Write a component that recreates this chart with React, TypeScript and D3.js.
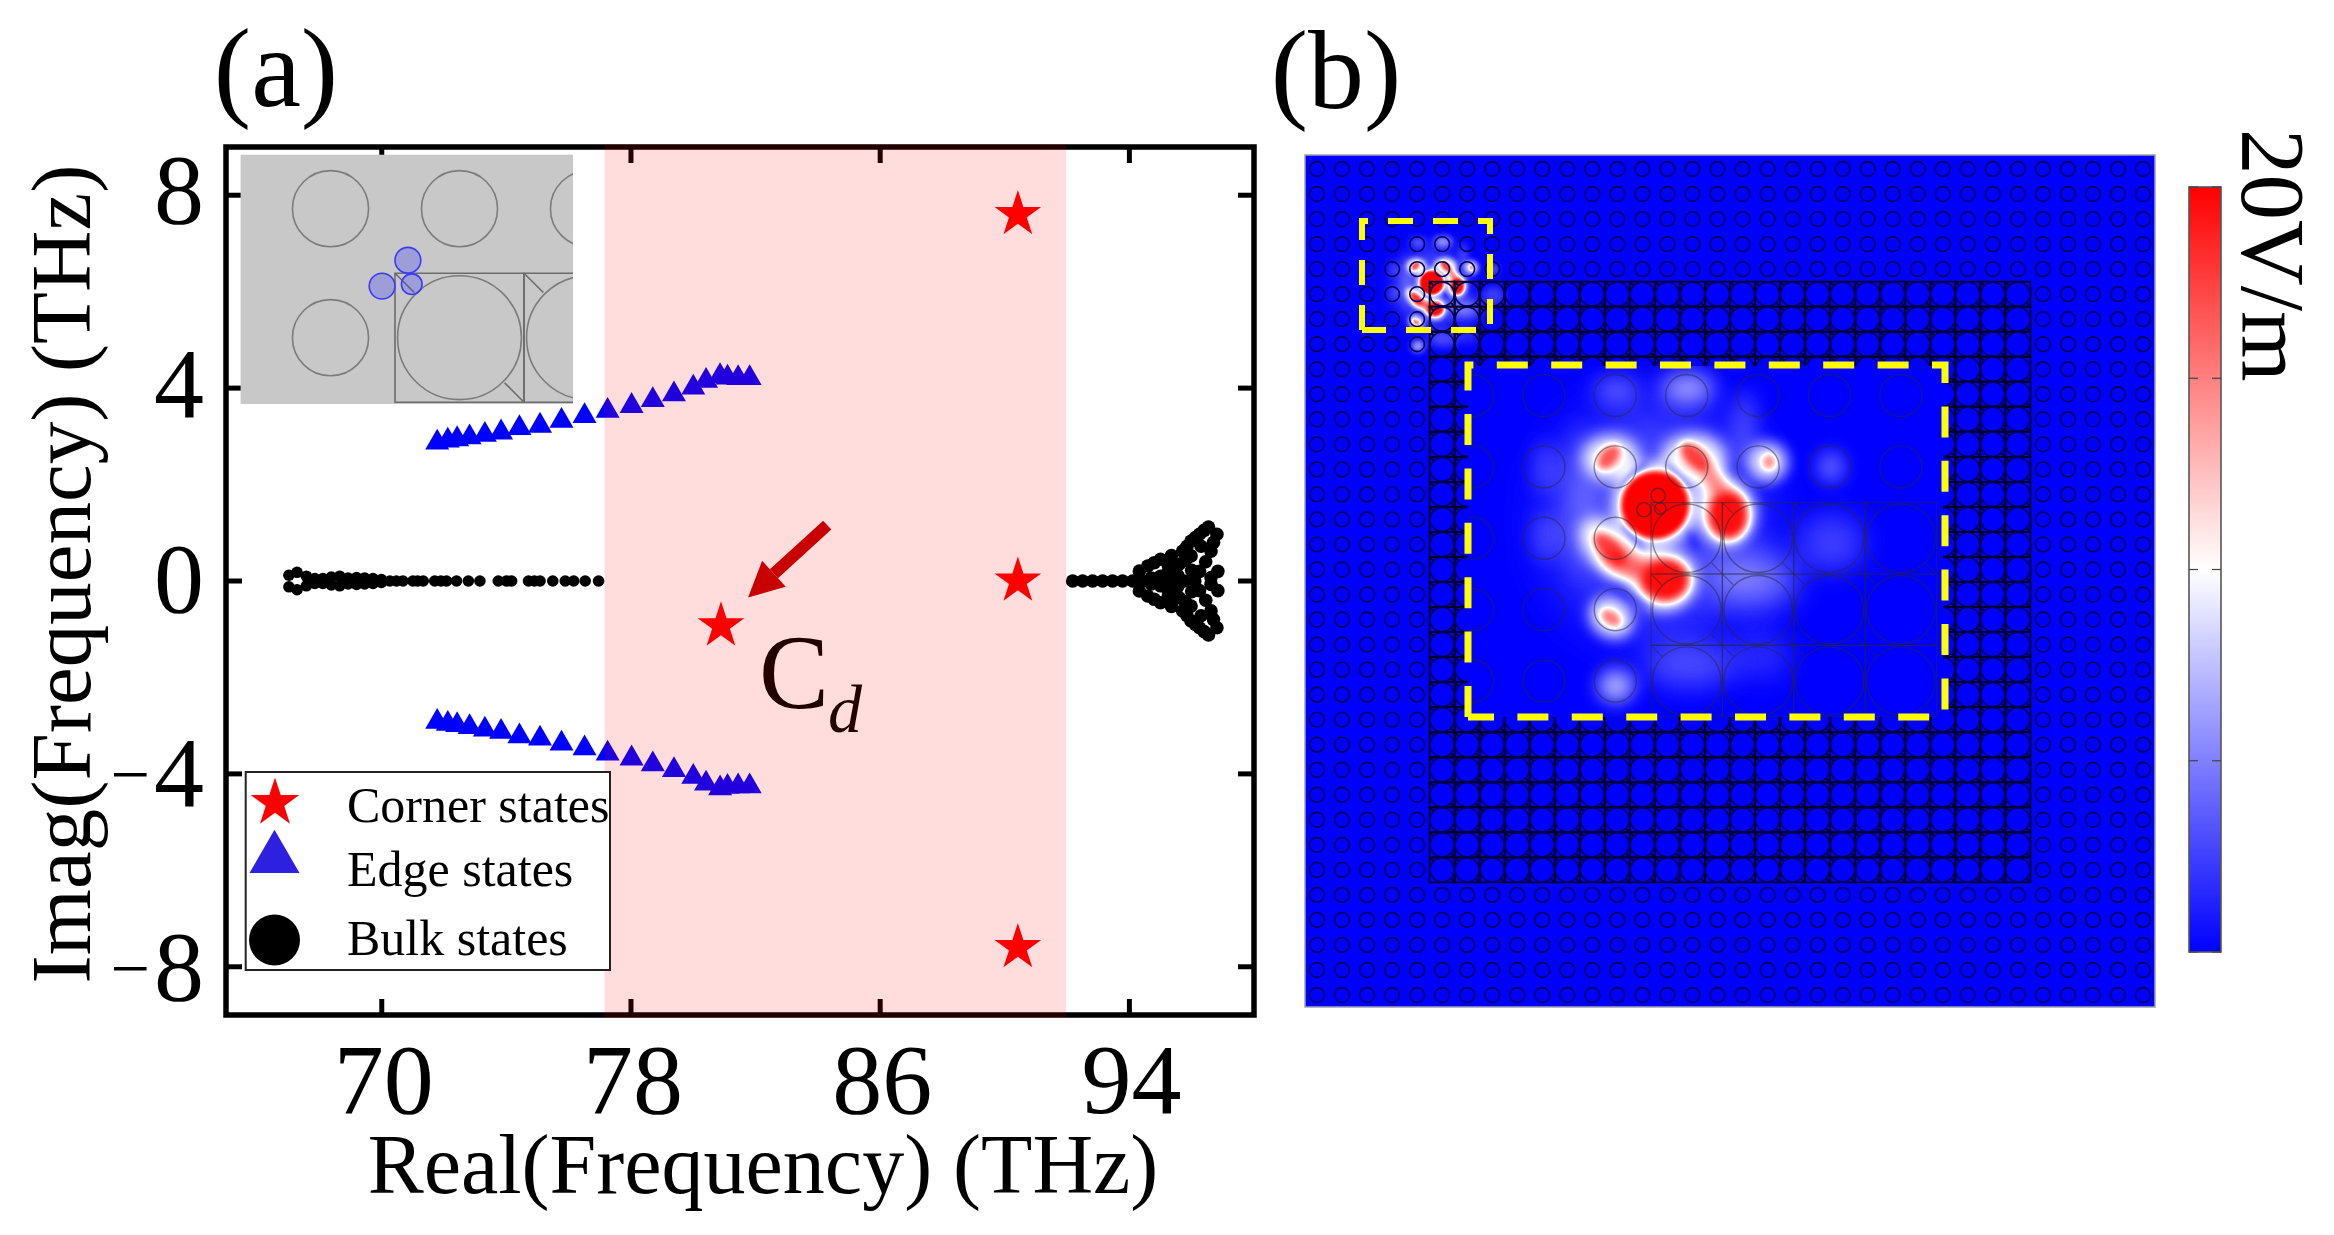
import React from 'react';
import * as d3 from 'd3';

// ---- panel (a) data ----
const xTicks = [70, 78, 86, 94];
const yTicks = [-8, -4, 0, 4, 8];
const bandRange = [77.15, 91.97];

const edgeX = [71.78, 72.12, 72.42, 72.82, 73.31, 73.83, 74.42, 75.08, 75.77, 76.51, 77.25, 78.02, 78.7, 79.38, 80.0, 80.41, 80.86, 81.1, 81.44, 81.81];
const edgeUpper = [2.87, 2.91, 2.94, 2.98, 3.03, 3.08, 3.17, 3.22, 3.32, 3.42, 3.53, 3.63, 3.75, 3.87, 4.01, 4.15, 4.25, 4.22, 4.21, 4.21];
const edgeLower = [-2.92, -2.96, -2.99, -3.03, -3.08, -3.13, -3.22, -3.27, -3.37, -3.47, -3.58, -3.68, -3.8, -3.92, -4.06, -4.2, -4.3, -4.27, -4.26, -4.26];

// bulk states come in +/- pairs
const bulkLeftX = [67.02, 67.28, 67.58, 67.85, 68.11, 68.38, 68.65, 68.92, 69.19, 69.45, 69.72, 69.99, 70.26, 70.47, 70.68, 71.0, 71.15, 71.33, 71.7, 71.9, 72.08, 72.4, 72.78, 73.15, 73.74, 74.0, 74.17, 74.71, 74.9, 75.08, 75.49, 75.89, 76.16, 76.53, 76.96];
const bulkLeftY = [0.12, 0.18, 0.1, 0.05, 0.05, 0.08, 0.1, 0.06, 0.07, 0.06, 0.05, 0.03, 0, 0, 0, 0, 0, 0, 0, 0, 0, 0, 0, 0, 0, 0, 0, 0, 0, 0, 0, 0, 0, 0, 0];
const bulkFanX = [92.18, 92.5, 92.82, 93.14, 93.46, 93.78, 94.11, 94.4, 94.8, 95.05, 95.39, 95.76, 96.1,
  94.32, 94.59, 94.8, 95.0, 95.35, 95.71, 95.85, 95.98, 96.12, 96.25, 96.4, 96.54, 96.81, 96.7, 96.62, 96.3, 95.98, 95.8, 95.6, 95.4, 95.23, 95.0, 94.7, 96.25, 96.84, 96.62, 95.55, 96.0, 96.45, 95.25];
const bulkFanY = [0, 0, 0, 0, 0, 0, 0, 0, 0, 0, 0, 0, 0,
  0.207, 0.31, 0.38, 0.45, 0.53, 0.62, 0.72, 0.83, 0.9, 0.97, 1.05, 1.12, 0.97, 0.8, 0.62, 0.72, 0.52, 0.43, 0.35, 0.26, 0.17, 0.1, 0.06, 0.2, 0.2, 0.07, 0.12, 0.22, 0.4, 0.32];

const cornerX = [90.42, 90.42, 90.42, 80.89];
const cornerY = [7.6, 0, -7.6, -0.93];

const arrowFrom = [84.3, 1.16];
const arrowTo = [81.76, -0.34];

const legendLabels = ['Corner states', 'Edge states', 'Bulk states'];

// ---- panel (b) data ----
const colorbarTicks = [-1, -0.5, 0, 0.5, 1];

// field lobes relative to the main hot spot, in pixels of the magnified view
// [dx, dy, rx, ry, rotation, level, blur]  (negative level darkens)
const fieldLobes: number[][] = [
  // broad glow
  [0, 15, 100, 110, 0, 0.15, 30],
  [-75, -5, 14, 75, 0, 0.1, 12],
  [90, -75, 12, 40, 0, 0.12, 10],
  [33, -117, 26, 14, 0, 0.32, 11],
  [-39, -115, 22, 12, 0, 0.18, 11],
  [-110, -38, 12, 26, 0, 0.1, 10],
  [-110, 32, 12, 24, 0, 0.1, 10],
  [35, 160, 45, 22, 0, 0.14, 14],
  [-39, 181, 18, 16, 0, 0.34, 9],
  [100, 75, 42, 26, 0, 0.22, 16],
  [176, -38, 14, 16, 0, 0.18, 9],
  [176, 38, 32, 28, 0, 0.12, 14],
  [105, 150, 30, 24, 0, 0.08, 14],
  // white halos round the hot lobes
  [-44, -47, 28, 23, 0, 0.42, 8],
  [39, -47, 32, 24, 0, 0.42, 8],
  [113, -43, 20, 20, 0, 0.4, 7],
  [-46, 42, 34, 21, 45, 0.44, 8],
  [-44, 113, 23, 19, 35, 0.42, 7],
  [72, 8, 29, 33, 0, 0.42, 7],
  [0, 0, 42, 42, 0, 0.42, 7],
  [9, 75, 33, 31, 0, 0.42, 7],
  [-24, 60, 34, 18, 20, 0.42, 7],
  [59, -22, 15, 23, -35, 0.4, 7],
  // dark seams along the hole edges
  [-21, -30, 20, 3.5, -45, -0.55, 3],
  [24, -29, 20, 3.5, 45, -0.55, 3],
  [-22, 32, 18, 3.5, 45, -0.5, 3],
  [38, 36, 12, 4, 60, -0.45, 3.5],
  [-26, 92, 24, 4, 30, -0.35, 3.5],
  // hot cores
  [0, 0, 34, 34, 0, 1, 2.8],
  [73, 10, 20, 24, 0, 0.95, 4],
  [59, -24, 7, 15, -35, 0.35, 4],
  [10, 75, 24, 21, 0, 0.95, 4],
  [-28, 60, 22, 9, 20, 0.4, 4],
  [-45, 44, 20, 10, 45, 0.72, 3.5],
  [-46, -48, 14, 9, -50, 0.68, 3.5],
  [40, -48, 18, 10, 45, 0.75, 3.5],
  [114, -43, 7, 8, 0, 0.5, 3],
  [-44, 113, 11, 7, 35, 0.56, 3],
];

const latticeCount = 34;
const blockStart = 5;
const blockEnd = 28;

const serif = '"Liberation Serif", serif';

// ---- scales ----
const x = d3.scaleLinear().domain([65, 98]).range([226, 1254]);
const y = d3.scaleLinear().domain([-9, 9]).range([1015, 147]);
const barY = d3.scaleLinear().domain([-1, 1]).range([952, 187]);

const sym = (type: any, size: number) => d3.symbol().type(type).size(size)() as string;
const starPath = (r: number) => sym(d3.symbolStar, (r * r) / 0.89081);
const triPath = (side: number) => sym(d3.symbolTriangle, (Math.sqrt(3) / 4) * side * side);

function Lattice({ col, row, cols, rows, stroke, width, cellStroke, cellWidth }: any) {
  const pitch = col(1) - col(0);
  const cells: any[] = [];
  cols.forEach((c: number) => rows.forEach((r: number) => {
    const cx = col(c);
    const cy = row(r);
    const inBlock = c >= blockStart && c <= blockEnd && r >= blockStart && r <= blockEnd;
    if (!inBlock) {
      cells.push(<circle key={`s${c}-${r}`} cx={cx} cy={cy} r={pitch * 0.295} fill="none" stroke={stroke} strokeWidth={width} />);
      return;
    }
    const h = pitch / 2;
    const d = `M${cx - h},${cy - h}H${cx + h}V${cy + h}H${cx - h}Z`
      + `M${cx - h},${cy - h}L${cx - h + pitch * 0.15},${cy - h + pitch * 0.15}`
      + `M${cx + h},${cy + h}L${cx + h - pitch * 0.15},${cy + h - pitch * 0.15}`;
    cells.push(
      <g key={`b${c}-${r}`}>
        <path d={d} fill="none" stroke={cellStroke} strokeWidth={cellWidth} />
        <circle cx={cx} cy={cy} r={pitch * 0.48} fill="none" stroke={stroke} strokeWidth={width} />
      </g>
    );
  }));
  return <g>{cells}</g>;
}

// grey level picture of the field, mapped to blue-white-red by the #fieldRamp filter
function Field({ transform, box }: any) {
  return (
    <g transform={transform} filter="url(#fieldRamp)">
      <rect x={box[0]} y={box[1]} width={box[2]} height={box[3]} fill="#000" />
      {fieldLobes.map((l, i) => (
        <ellipse
          key={i}
          cx={0}
          cy={0}
          rx={l[2]}
          ry={l[3]}
          transform={`translate(${l[0]},${l[1]}) rotate(${l[4]})`}
          fill={l[5] < 0 ? '#000' : '#fff'}
          opacity={Math.abs(l[5])}
          filter={`url(#lobe${i})`}
        />
      ))}
    </g>
  );
}

function DashedBox({ x0, y0, x1, y1, dash, width }: any) {
  return (
    <path
      d={`M${x0},${y1}V${y0}H${x1}V${y1}H${x0}`}
      fill="none"
      stroke="#ffff00"
      strokeWidth={width}
      strokeDasharray={dash}
    />
  );
}

export default function App() {
  const hot = [1655, 505];
  const baseCol = d3.scaleLinear().domain([0, latticeCount - 1]).range([1317, 2143]);
  const baseRow = d3.scaleLinear().domain([0, latticeCount - 1]).range([169, 995]);
  const zoomCol = d3.scaleLinear().domain([5, 6]).range([1686.7, 1758.1]);
  const zoomRow = d3.scaleLinear().domain([5, 6]).range([538.3, 609.7]);
  const geomCol = d3.scaleLinear().domain([5, 6]).range([459.5, 588.5]);
  const geomRow = d3.scaleLinear().domain([5, 6]).range([337.7, 466.7]);
  const smallScale = 0.351;
  const smallHot = [1431.7, 282.7];

  // unit cell corner feed points, as fractions of a lattice pitch
  const feedX = [0.1, -0.1, 0.13];
  const feedY = [-0.1, 0.1, 0.085];
  const feedR = [0.1, 0.1, 0.08];
  const geomCornerX = geomCol(4.5);
  const geomCornerY = geomRow(4.5);
  const zoomCornerX = zoomCol(4.5);
  const zoomCornerY = zoomRow(4.5);

  // arrow
  const ax0 = x(arrowFrom[0]);
  const ay0 = y(arrowFrom[1]);
  const ax1 = x(arrowTo[0]);
  const ay1 = y(arrowTo[1]);
  const len = Math.hypot(ax1 - ax0, ay1 - ay0);
  const ux = (ax1 - ax0) / len;
  const uy = (ay1 - ay0) / len;
  const neckX = ax1 - ux * 35;
  const neckY = ay1 - uy * 35;

  const ticksStyle = { stroke: '#000', strokeWidth: 5 };

  return (
    <svg width={2334} height={1235} style={{ position: 'absolute', left: 0, top: 0, display: 'block', background: '#fff' }} fontFamily={serif}>
      <defs>
        <filter id="fieldRamp" x="0" y="0" width="1" height="1" colorInterpolationFilters="sRGB">
          <feComponentTransfer>
            <feFuncR type="table" tableValues="0 1 1" />
            <feFuncG type="table" tableValues="0 1 0" />
            <feFuncB type="table" tableValues="1 1 0" />
          </feComponentTransfer>
        </filter>
        {fieldLobes.map((l, i) => (
          <filter key={i} id={`lobe${i}`} x="-200%" y="-400%" width="500%" height="900%" colorInterpolationFilters="sRGB">
            <feGaussianBlur stdDeviation={l[6]} />
          </filter>
        ))}
        <linearGradient id="barRamp" x1="0" y1="0" x2="0" y2="1">
          <stop offset="0" stopColor="#ff0000" />
          <stop offset="0.5" stopColor="#ffffff" />
          <stop offset="1" stopColor="#0000ff" />
        </linearGradient>
        <clipPath id="geomClip"><rect x={240.6} y={154.7} width={332.4} height={249.3} /></clipPath>
        <clipPath id="zoomClip"><rect x={1468} y={366} width={475} height={351} /></clipPath>
        <clipPath id="panelClip"><rect x={1305} y={155} width={850} height={852} /></clipPath>
      </defs>

      {/* Panel (a) */}
      <text x={276} y={106} fontSize={112} textAnchor="middle">(a)</text>

      {/* frame and ticks, below the translucent band */}
      <rect x={x(65)} y={y(9)} width={x(98) - x(65)} height={y(-9) - y(9)} fill="none" stroke="#000" strokeWidth={5.5} />
      {xTicks.map(t => (
        <g key={t}>
          <line x1={x(t)} x2={x(t)} y1={y(-9)} y2={y(-9) - 16} {...ticksStyle} />
          <line x1={x(t)} x2={x(t)} y1={y(9)} y2={y(9) + 16} {...ticksStyle} />
          <text x={x(t) + 2} y={1113} fontSize={100} textAnchor="middle">{t}</text>
        </g>
      ))}
      {yTicks.map(t => (
        <g key={t}>
          <line x1={x(65)} x2={x(65) + 16} y1={y(t)} y2={y(t)} {...ticksStyle} />
          <line x1={x(98)} x2={x(98) - 16} y1={y(t)} y2={y(t)} {...ticksStyle} />
          <text x={204} y={y(t) + 30.5 - t * 0.31} fontSize={100} textAnchor="end">
            {t < 0 && <tspan fontSize={70} dy={-8}>{'\u2212'}</tspan>}
            <tspan dy={t < 0 ? 8 : 0} dx={t < 0 ? 4 : 0}>{Math.abs(t)}</tspan>
          </text>
        </g>
      ))}
      <text x={763} y={1193} fontSize={84} textAnchor="middle">Real(Frequency) (THz)</text>
      <text transform="translate(90,574) rotate(-90)" fontSize={85} textAnchor="middle">Imag(Frequency) (THz)</text>

      {/* states */}
      {bulkLeftX.map((v, i) => (
        <g key={i}>
          <circle cx={x(v)} cy={y(bulkLeftY[i])} r={5.8} fill="#000" />
          {bulkLeftY[i] !== 0 && <circle cx={x(v)} cy={y(-bulkLeftY[i])} r={5.8} fill="#000" />}
        </g>
      ))}
      {bulkFanX.map((v, i) => (
        <g key={i}>
          <circle cx={x(v)} cy={y(bulkFanY[i])} r={6.8} fill="#000" />
          {bulkFanY[i] !== 0 && <circle cx={x(v)} cy={y(-bulkFanY[i])} r={6.8} fill="#000" />}
        </g>
      ))}
      {edgeX.map((v, i) => (
        <g key={i}>
          <path d={triPath(24)} transform={`translate(${x(v)},${y(edgeUpper[i])})`} fill="#0000ff" />
          <path d={triPath(24)} transform={`translate(${x(v)},${y(edgeLower[i])})`} fill="#0000ff" />
        </g>
      ))}
      {cornerX.map((v, i) => (
        <path key={i} d={starPath(24.5)} transform={`translate(${x(v)},${y(cornerY[i])})`} fill="#ff0000" />
      ))}
      <text x={759} y={708} fontSize={105}>C</text>
      <text x={828} y={732} fontSize={68} fontStyle="italic">d</text>

      {/* shaded gap sits on top of the marks */}
      <rect x={x(bandRange[0])} y={y(9) - 2.75} width={x(bandRange[1]) - x(bandRange[0])} height={y(-9) - y(9) + 5.5} fill="#ff0000" opacity={0.133} />

      <line x1={ax0} y1={ay0} x2={neckX} y2={neckY} stroke="#c80000" strokeWidth={12} />
      <path
        d={`M${ax1},${ay1}L${neckX - uy * 17.5},${neckY + ux * 17.5}L${neckX + uy * 17.5},${neckY - ux * 17.5}Z`}
        fill="#c80000"
      />

      {/* unit cell inset */}
      <rect x={240.6} y={154.7} width={332.4} height={249.3} fill="#c8c8c8" />
      <g clipPath="url(#geomClip)">
        <Lattice col={geomCol} row={geomRow} cols={[4, 5, 6]} rows={[4, 5]} stroke="#7c7c7c" width={1.6} cellStroke="#6c6c6c" cellWidth={1.6} />
        {feedX.map((v, i) => (
          <circle key={i} cx={geomCornerX + v * 129} cy={geomCornerY + feedY[i] * 129} r={feedR[i] * 129} fill="#3a3aff" fillOpacity={0.3} stroke="#3a3aff" strokeWidth={1.6} />
        ))}
      </g>

      {/* legend */}
      <rect x={245.7} y={772} width={364.3} height={198} fill="#fff" stroke="#222" strokeWidth={2} />
      <path d={starPath(25.5)} transform="translate(275,803)" fill="#ff0000" />
      <path d={triPath(50)} transform="translate(274.5,858.5)" fill="#2e20e0" />
      <circle cx={274.5} cy={940} r={25.5} fill="#000" />
      {legendLabels.map((l, i) => (
        <text key={l} x={347} y={[822, 886, 955][i]} fontSize={50}>{l}</text>
      ))}

      {/* Panel (b) */}
      <text x={1336} y={108} fontSize={112} textAnchor="middle">(b)</text>

      <rect x={1305} y={155} width={850} height={852} fill="#0000ff" stroke="#a0a0b0" strokeWidth={1.5} />
      <g clipPath="url(#panelClip)">
        <Field
          transform={`translate(${smallHot[0]},${smallHot[1]}) scale(${smallScale})`}
          box={[-230, -230, 560, 560]}
        />
        <Lattice
          col={baseCol}
          row={baseRow}
          cols={d3.range(latticeCount)}
          rows={d3.range(latticeCount)}
          stroke="#00005a"
          width={1.6}
          cellStroke="#000028"
          cellWidth={1.9}
        />
      </g>
      <DashedBox x0={1362} y0={221} x1={1490} y1={330} dash="25 20" width={6} />

      {/* magnified corner */}
      <rect x={1468} y={366} width={475} height={351} fill="#0000ff" />
      <g clipPath="url(#zoomClip)">
        <Field
          transform={`translate(${hot[0]},${hot[1]})`}
          box={[1468 - hot[0], 366 - hot[1], 475, 351]}
        />
        <Lattice
          col={zoomCol}
          row={zoomRow}
          cols={[2, 3, 4, 5, 6, 7, 8]}
          rows={[3, 4, 5, 6, 7]}
          stroke="rgba(40,40,50,0.5)"
          width={1.4}
          cellStroke="rgba(40,40,50,0.45)"
          cellWidth={1.2}
        />
        {feedX.map((v, i) => (
          <circle key={i} cx={zoomCornerX + v * 71.4} cy={zoomCornerY + feedY[i] * 71.4} r={feedR[i] * 71.4} fill="none" stroke="rgba(40,40,50,0.6)" strokeWidth={1.4} />
        ))}
      </g>
      <DashedBox x0={1468} y0={365} x1={1945} y1={717} dash="31 23.4" width={7} />

      {/* colour bar */}
      <rect x={2189} y={barY(1)} width={32} height={barY(-1) - barY(1)} fill="url(#barRamp)" stroke="#555" strokeWidth={1.6} />
      {colorbarTicks.map(t => (
        <g key={t} stroke="#444" strokeWidth={1.2}>
          <line x1={2189} x2={2198} y1={barY(t)} y2={barY(t)} />
          <line x1={2212} x2={2221} y1={barY(t)} y2={barY(t)} />
        </g>
      ))}
      <text transform="translate(2242,129) rotate(90)" fontSize={91}>20V/m</text>
    </svg>
  );
}
